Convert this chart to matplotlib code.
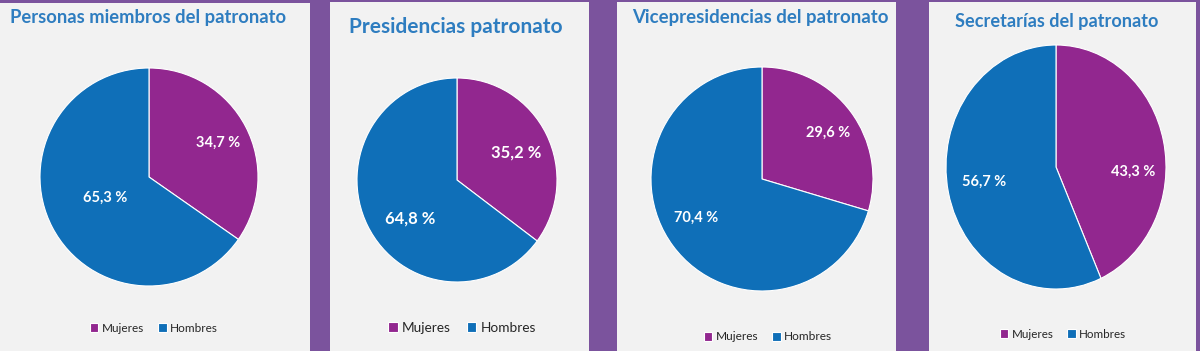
import matplotlib.pyplot as plt
from matplotlib.patches import Rectangle

# data
titles = ["Personas miembros del patronato", "Presidencias patronato",
          "Vicepresidencias del patronato", "Secretarías del patronato"]
categories = ["Mujeres", "Hombres"]
mujeres = [34.7, 35.2, 29.6, 43.3]
hombres = [65.3, 64.8, 70.4, 56.7]

purple = "#92278f"
blue = "#0f6fb8"
W, H = 1200, 351

plt.rcParams['font.family'] = ['Lato', 'DejaVu Sans']

def fx(x):
    return x / W

def fy(y):
    return 1 - y / H

fig = plt.figure(figsize=(12, 3.51), dpi=100)
fig.patch.set_facecolor("#7b539d")

# panel boxes (x0, x1, top)
panels = [(0, 310, 3), (330, 589, 2), (617, 896, 2), (929, 1196, 2)]
# pie centre, radius x, radius y
pies = [(149, 177, 109, 109), (457, 180, 100, 102), (762, 179, 111, 112), (1056, 167, 110, 122)]
title_pos = [(10, 18, 13.2), (349, 27, 15), (632, 18, 13.4), (955, 22, 13.1)]
label_pos = [[(0.63, 0.31), (-0.40, -0.19)],
             [(0.59, 0.27), (-0.47, -0.38)],
             [(0.60, 0.41), (-0.59, -0.35)],
             [(0.70, -0.04), (-0.65, -0.12)]]
label_size = [10.5, 12, 10.5, 10.5]
legend_pos = [(154, 328, 8.5), (462, 328, 9.8), (768, 337, 8.6), (1063, 334, 8.4)]

for i in range(4):
    x0, x1, top = panels[i]
    fig.patches.append(Rectangle((fx(x0), 0), fx(x1) - fx(x0), fy(top), transform=fig.transFigure,
                                 facecolor="#f2f2f2", edgecolor="none", zorder=-1))

    cx, cy, rx, ry = pies[i]
    ax = fig.add_axes([fx(cx - rx), fy(cy + ry), 2 * rx / W, 2 * ry / H])
    ax.set_zorder(2)
    ax.patch.set_alpha(0)
    wedges, _ = ax.pie([mujeres[i], hombres[i]], colors=[purple, blue], startangle=90,
                       counterclock=False, wedgeprops=dict(edgecolor="white", linewidth=0.8))
    ax.set_aspect('auto')
    ax.set_xlim(-1, 1)
    ax.set_ylim(-1, 1)
    for (lx, ly), v in zip(label_pos[i], [mujeres[i], hombres[i]]):
        ax.text(lx, ly, f"{v:.1f}".replace('.', ',') + " %", color="white", ha="center", va="center",
                fontsize=label_size[i], fontweight="bold")

    tx, ty, ts = title_pos[i]
    fig.text(fx(tx), fy(ty), titles[i], color="#2e7dc0", fontsize=ts, fontweight="bold",
             ha="left", va="center", zorder=3)

    lx, ly, ls = legend_pos[i]
    leg = fig.legend(wedges, categories, loc="center", bbox_to_anchor=(fx(lx), fy(ly)), ncol=2,
                     frameon=False, fontsize=ls, handlelength=0.7, handleheight=0.7, handletextpad=0.3,
                     columnspacing=1.2, labelcolor="#262626")
    leg.set_zorder(3)

fig.savefig("out.png", dpi=100, facecolor=fig.get_facecolor())
